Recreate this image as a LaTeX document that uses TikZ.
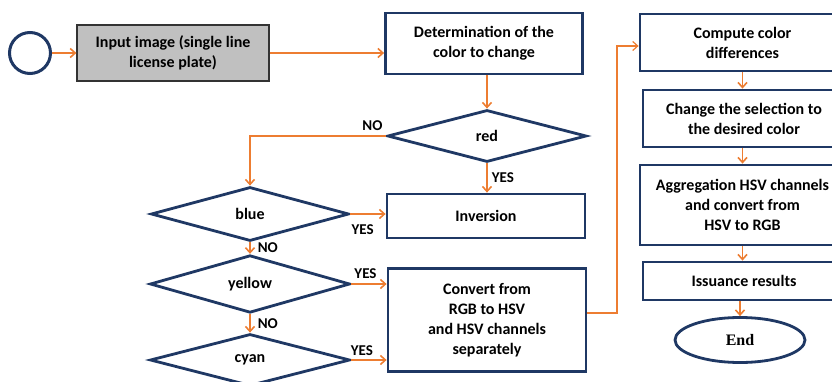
\documentclass[tikz,border=0pt]{standalone}
\usepackage{fontspec}
\setmainfont{Carlito}
\newfontfamily\endfont{Liberation Serif}
\usetikzlibrary{arrows.meta, shapes.geometric}

\definecolor{boxblue}{HTML}{1F3864}
\definecolor{arrorange}{HTML}{ED7D31}
\definecolor{inputgray}{HTML}{C0C0C0}

\tikzset{
    flowbox/.style={draw=boxblue, line width=2.8pt, fill=white, rectangle, align=center,
        inner sep=0pt, font=\fontsize{16}{20}\selectfont\bfseries},
    decision/.style={draw=boxblue, line width=2.8pt, fill=white, diamond, inner sep=0pt,
        font=\fontsize{16}{20}\selectfont\bfseries},
    flowarrow/.style={draw=arrorange, line width=1.6pt, -{Straight Barb[length=5pt, width=9pt]}},
    answer/.style={font=\fontsize{15}{17}\selectfont\bfseries, inner sep=1pt}
}

\begin{document}
\begin{tikzpicture}[x=1pt, y=-1pt]

    \useasboundingbox (0,0) rectangle (832,382);

    % Draw nodes
    \node[draw=boxblue, line width=3pt, circle, minimum size=41pt] (start) at (30,53) {};
    \node[draw=black!80, line width=1.2pt, fill=inputgray, rectangle, align=center,
        minimum width=192pt, minimum height=56pt,
        font=\fontsize{16}{20}\selectfont\bfseries] (input) at (173,53)
        {Input image (single line\\license plate)};
    \node[flowbox, minimum width=197pt, minimum height=61pt] (determ) at (484,43.5)
        {Determination of the\\color to change};
    \node[decision, minimum width=199pt, minimum height=52pt] (red) at (487,136) {red};
    \node[flowbox, minimum width=198pt, minimum height=44pt] (inversion) at (486,216) {Inversion};
    \node[flowbox, minimum width=198pt, minimum height=103pt] (convert) at (487,320)
        {Convert from\\RGB to HSV\\and HSV channels\\separately};
    \node[decision, minimum width=198pt, minimum height=54pt] (blue) at (250,214) {blue};
    \node[decision, minimum width=200pt, minimum height=53pt] (yellow) at (250,284) {yellow};
    \node[decision, minimum width=200pt, minimum height=52pt] (cyan) at (250,360) {cyan};

    \node[flowbox, minimum width=205pt, minimum height=57pt] (compute) at (742.5,42.5)
        {Compute color\\differences};
    \node[flowbox, minimum width=202pt, minimum height=57pt] (change) at (744,118.5)
        {Change the selection to\\the desired color};
    \node[flowbox, minimum width=205pt, minimum height=80pt] (aggreg) at (742.5,205)
        {Aggregation HSV channels\\and convert from\\HSV to RGB};
    \node[flowbox, minimum width=202pt, minimum height=38pt] (issue) at (744,281)
        {Issuance results};
    \node[draw=boxblue, line width=2.8pt, ellipse, minimum width=130pt, minimum height=45pt,
        font=\endfont\fontsize{16}{18}\selectfont\bfseries] (finish) at (740,340) {End};

    \coordinate (bend) at (617,313);

    % Draw arrows
    \draw[flowarrow] (start) -- (input);
    \draw[flowarrow] (input.east) -- (input.east -| determ.west);
    \draw[flowarrow] (determ.south -| red.north) -- (red.north);
    \draw[flowarrow] (red.south) -- node[answer, right=3pt] (yesred) {YES} (red.south |- inversion.north);
    \draw[flowarrow] (red.west) -| node[answer, pos=0.05, above=4pt] (nored) {NO} (blue.north);
    \draw[flowarrow] (blue.east) -- node[answer, below=9pt, pos=0.35] (yesblue) {YES} (blue.east -| inversion.west);
    \draw[flowarrow] (blue.south) -- node[answer, right=6pt] (noblue) {NO} (yellow.north);
    \draw[flowarrow] (yellow.east) -- node[answer, above=4pt, pos=0.4] (yesyellow) {YES} (yellow.east -| convert.west);
    \draw[flowarrow] (yellow.south) -- node[answer, right=6pt] (noyellow) {NO} (cyan.north);
    \draw[flowarrow] (cyan.east) -- node[answer, above=3pt, pos=0.3] (yescyan) {YES} (cyan.east -| convert.west);
    \draw[flowarrow, line width=1.2pt] (convert.east |- bend) -- (bend) |- ([yshift=-3.5pt]compute.west);
    \draw[flowarrow] (compute.south) -- (compute.south |- change.north);
    \draw[flowarrow] (change.south -| compute.south) -- (compute.south |- aggreg.north);
    \draw[flowarrow] (aggreg.south) -- (aggreg.south |- issue.north);
    \draw[flowarrow] (issue.south -| finish.north) -- (finish.north);

\end{tikzpicture}
\end{document}
